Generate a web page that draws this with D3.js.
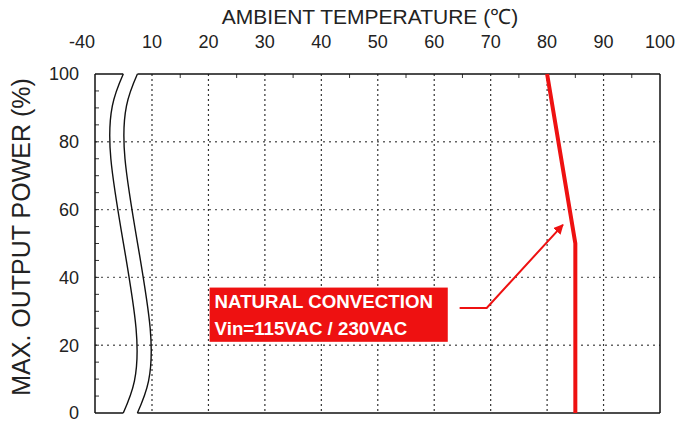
<!DOCTYPE html>
<html>
<head>
<meta charset="utf-8">
<script src="https://cdn.jsdelivr.net/npm/d3@7"></script>
<style>
  body { margin: 0; background: #fff; }
  text { font-family: "Liberation Sans", Arial, sans-serif; fill: #222; }
</style>
</head>
<body>
<div id="chart"></div>
<script>
// derating curve, values
const temps = [80, 85, 85];
const loads = [100, 50, 0];

const xTicks = [-40, 10, 20, 30, 40, 50, 60, 70, 80, 90, 100];
const xGrid = [10, 20, 30, 40, 50, 60, 70, 80, 90];
const xMinor = [15, 25, 35, 45, 55, 65, 75, 85, 95];
const yTicks = [0, 20, 40, 60, 80, 100];
const yGrid = [20, 40, 60, 80];
const yMinor = d3.range(5, 100, 5);

// axis break (two wavy lines), in axis units
const breakX = [-15.2, -26.1, -4.0, -15.2];
const breakY = [100, 75, 25, 0];
const breakGap = 12.4;

// annotation box + arrow, in axis units
const boxX = [20.2, 62.4];
const boxY = [37, 21];
const noteLines = ["NATURAL CONVECTION", "Vin=115VAC / 230VAC"];
const arrowX = [64.5, 69.3, 82.8];
const arrowY = [31, 31, 55.5];

const W = 696, H = 423;
const red = "#ee1111";

const svg = d3.select("#chart").append("svg")
  .attr("width", W).attr("height", H);

// broken axis: -40 sits one division left of 10
const x = d3.scaleLinear().domain([-40, 10, 100]).range([95, 152, 660]);
const y = d3.scaleLinear().domain([0, 100]).range([413, 74]);

svg.append("defs").append("marker")
  .attr("id", "head")
  .attr("viewBox", "0 0 10 10")
  .attr("refX", 9).attr("refY", 5)
  .attr("markerWidth", 5).attr("markerHeight", 5)
  .attr("orient", "auto")
  .append("path").attr("d", "M0,0 L10,5 L0,10 z").attr("fill", red);

// grid
svg.append("g").selectAll("line").data(yGrid).join("line")
  .attr("x1", x(-40)).attr("x2", x(100))
  .attr("y1", d => y(d)).attr("y2", d => y(d))
  .attr("stroke", "#666").attr("stroke-width", 1.4)
  .attr("stroke-dasharray", "2,4");

svg.append("g").selectAll("line").data(xGrid).join("line")
  .attr("x1", d => x(d)).attr("x2", d => x(d))
  .attr("y1", y(100)).attr("y2", y(0))
  .attr("stroke", "#333").attr("stroke-width", 1.2)
  .attr("stroke-dasharray", "2,3");

// minor ticks, inward
svg.append("g").selectAll("line").data(xMinor).join("line")
  .attr("x1", d => x(d)).attr("x2", d => x(d))
  .attr("y1", y(100)).attr("y2", y(100) + 4)
  .attr("stroke", "#333");
svg.append("g").selectAll("line").data(yMinor).join("line")
  .attr("x1", x(-40)).attr("x2", x(-40) + 4)
  .attr("y1", d => y(d)).attr("y2", d => y(d))
  .attr("stroke", "#333");

// frame, with the gap at the break
const frame = svg.append("g").attr("stroke", "#111").attr("stroke-width", 1.5).attr("fill", "none");
frame.append("line").attr("x1", x(-40)).attr("x2", x(-40)).attr("y1", y(0)).attr("y2", y(100));
frame.append("line").attr("x1", x(100)).attr("x2", x(100)).attr("y1", y(0)).attr("y2", y(100));
[100, 0].forEach(v => {
  const i = v === 100 ? 0 : breakX.length - 1;
  frame.append("line").attr("x1", x(-40)).attr("x2", x(breakX[i])).attr("y1", y(v)).attr("y2", y(v));
  frame.append("line").attr("x1", x(breakX[i] + breakGap)).attr("x2", x(100)).attr("y1", y(v)).attr("y2", y(v));
});

const wave = d3.line().curve(d3.curveNatural);
[0, breakGap].forEach(off => {
  frame.append("path")
    .attr("stroke-width", 1.4)
    .attr("d", wave(breakX.map((d, i) => [x(d + off), y(breakY[i])])));
});

// tick labels (-40 sits left of the corner)
svg.append("g").selectAll("text").data(xTicks).join("text")
  .attr("x", d => d === -40 ? x(d) - 13 : x(d)).attr("y", 48)
  .attr("text-anchor", "middle").attr("font-size", 18)
  .text(d => d);
svg.append("g").selectAll("text").data(yTicks).join("text")
  .attr("x", 79).attr("y", d => y(d)).attr("dy", "0.36em")
  .attr("text-anchor", "end").attr("font-size", 18)
  .text(d => d);

svg.append("text")
  .attr("x", 370).attr("y", 24).attr("text-anchor", "middle")
  .attr("font-size", 21)
  .text("AMBIENT TEMPERATURE (℃)");
svg.append("text")
  .attr("transform", "translate(30,237) rotate(-90)")
  .attr("text-anchor", "middle").attr("font-size", 25)
  .text("MAX. OUTPUT POWER (%)");

// derating curve
svg.append("path")
  .attr("fill", "none").attr("stroke", red).attr("stroke-width", 4)
  .attr("d", d3.line()(temps.map((d, i) => [x(d), y(loads[i])])));

// annotation
svg.append("rect")
  .attr("x", x(boxX[0])).attr("y", y(boxY[0]))
  .attr("width", x(boxX[1]) - x(boxX[0]))
  .attr("height", y(boxY[1]) - y(boxY[0]))
  .attr("fill", red);
svg.append("g").selectAll("text").data(noteLines).join("text")
  .attr("x", x(boxX[0]) + 5)
  .attr("y", (d, i) => y(boxY[0]) + 20 + i * 27)
  .attr("font-size", 18.7).attr("font-weight", "bold")
  .style("fill", "#fff")
  .text(d => d);
svg.append("path")
  .attr("fill", "none").attr("stroke", red).attr("stroke-width", 2)
  .attr("marker-end", "url(#head)")
  .attr("d", d3.line()(arrowX.map((d, i) => [x(d), y(arrowY[i])])));
</script>
</body>
</html>
